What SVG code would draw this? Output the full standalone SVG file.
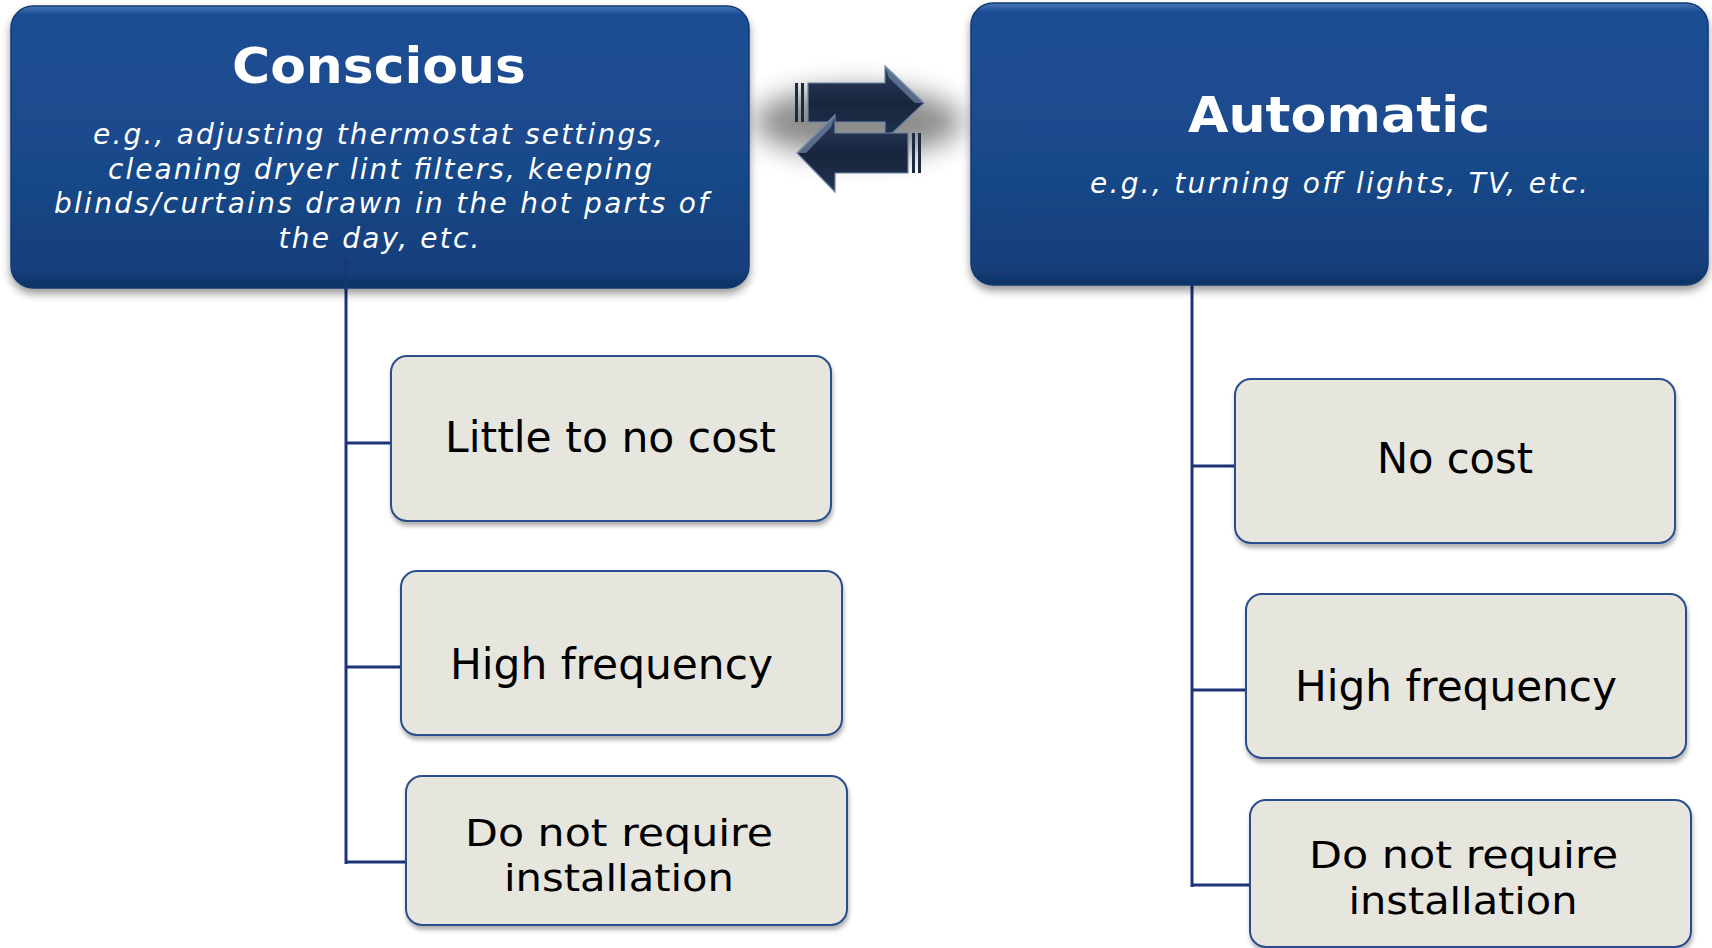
<svg xmlns="http://www.w3.org/2000/svg" width="1712" height="948" viewBox="0 0 1712 948">
<defs>
<linearGradient id="hdr" x1="0" y1="0" x2="0" y2="1">
<stop offset="0" stop-color="#4a78b8"/>
<stop offset="0.03" stop-color="#1c4e94"/>
<stop offset="0.5" stop-color="#1a4a8c"/>
<stop offset="0.93" stop-color="#143f7c"/>
<stop offset="1" stop-color="#0f3366"/>
</linearGradient>
<linearGradient id="arr" x1="0" y1="0" x2="0" y2="1">
<stop offset="0" stop-color="#2c3f60"/>
<stop offset="0.5" stop-color="#17243d"/>
<stop offset="1" stop-color="#22344f"/>
</linearGradient>
<filter id="hsh" x="-5%" y="-5%" width="110%" height="120%">
<feDropShadow dx="0" dy="5" stdDeviation="4" flood-color="#000" flood-opacity="0.4"/>
</filter>
<filter id="bsh" x="-5%" y="-5%" width="110%" height="120%">
<feDropShadow dx="1" dy="4" stdDeviation="2" flood-color="#000" flood-opacity="0.3"/>
</filter>
<filter id="blur" x="-50%" y="-100%" width="200%" height="300%">
<feGaussianBlur stdDeviation="14"/>
</filter>
<style>
.hdr{fill:url(#hdr);stroke:#123a70;stroke-width:1.5;filter:url(#hsh)}
.box{fill:#e6e5de;stroke:#2b4d8c;stroke-width:2;filter:url(#bsh)}
.title{font-family:"DejaVu Sans",Verdana,sans-serif;font-weight:bold;font-size:50px;fill:#fff;text-anchor:middle}
.sub{font-family:"DejaVu Sans",Verdana,sans-serif;font-style:italic;font-size:28px;fill:#fff;text-anchor:middle}
.lbl{font-family:"DejaVu Sans",Verdana,sans-serif;font-size:42px;fill:#000;text-anchor:middle}
.lbl2{font-family:"DejaVu Sans",Verdana,sans-serif;font-size:38px;fill:#000;text-anchor:middle}
.con{stroke:#1c3377;stroke-width:3;fill:none}
.stub{stroke:#cfcfcf;stroke-width:2;fill:none}
.ar{fill:url(#arr);stroke:#6d84a6;stroke-width:1.2}
.st{fill:#1b2a45}
</style>
</defs>
<rect width="1712" height="948" fill="#fff"/>

<g id="exchange-icon">
<ellipse cx="858" cy="122" rx="105" ry="34" fill="#000" opacity="0.45" filter="url(#blur)"/>
<g id="arrow-right">
<rect class="st" x="795" y="83" width="3" height="39"/>
<rect class="st" x="801" y="83" width="3" height="39"/>
<path class="ar" d="M808 83 H885 V66 L924 103 L885 140 V122 H808 Z"/>
<path d="M885 66 L924 103 L915 103 L889 78 Z" fill="#8aa0c0" opacity="0.55"/>
</g>
<g id="arrow-left">
<rect class="st" x="912" y="133" width="3" height="40"/>
<rect class="st" x="918" y="133" width="3" height="40"/>
<path class="ar" d="M908 133 H835 V115 L797 153 L835 192 V173 H908 Z"/>
<path d="M835 115 L797 153 L806 153 L831 127 Z" fill="#8aa0c0" opacity="0.55"/>
</g>
</g>

<g id="connectors">
<path class="con" d="M346 258 V864 M346 443 H391 M346 667 H401 M346 862 H406"/>
<path class="con" d="M1192 284 V887 M1192 466 H1235 M1192 690 H1246 M1192 885 H1250"/>
<path class="stub" d="M392 443 H403 M1236 466 H1247"/>
</g>

<g id="node-conscious">
<rect class="hdr" x="11" y="6" width="738" height="282" rx="22"/>
<text class="title" x="379" y="83" textLength="294" lengthAdjust="spacingAndGlyphs">Conscious</text>
<text class="sub" x="378" y="144" textLength="570" lengthAdjust="spacing">e.g., adjusting thermostat settings,</text>
<text class="sub" x="380" y="179" textLength="544" lengthAdjust="spacing">cleaning dryer lint filters, keeping</text>
<text class="sub" x="381" y="213" textLength="654" lengthAdjust="spacing">blinds/curtains drawn in the hot parts of</text>
<text class="sub" x="379" y="248" textLength="201" lengthAdjust="spacing">the day, etc.</text>
</g>
<path class="con" d="M346 258 V290"/>

<g id="node-automatic">
<rect class="hdr" x="971" y="3" width="737" height="282" rx="22"/>
<text class="title" x="1339" y="132" textLength="302" lengthAdjust="spacingAndGlyphs">Automatic</text>
<text class="sub" x="1339" y="193" textLength="498" lengthAdjust="spacing">e.g., turning off lights, TV, etc.</text>
</g>

<g id="node-little-cost">
<rect class="box" x="391" y="356" width="440" height="165" rx="16"/>
<text class="lbl" x="610.5" y="452" textLength="331" lengthAdjust="spacingAndGlyphs">Little to no cost</text>
</g>
<g id="node-left-high-frequency">
<rect class="box" x="401" y="571" width="441" height="164" rx="16"/>
<text class="lbl" x="611.5" y="679" textLength="323" lengthAdjust="spacingAndGlyphs">High frequency</text>
</g>
<g id="node-left-no-install">
<rect class="box" x="406" y="776" width="441" height="149" rx="16"/>
<text class="lbl2" x="619" y="846" textLength="308" lengthAdjust="spacingAndGlyphs">Do not require</text>
<text class="lbl2" x="619" y="891" textLength="230" lengthAdjust="spacingAndGlyphs">installation</text>
</g>

<g id="node-no-cost">
<rect class="box" x="1235" y="379" width="440" height="164" rx="16"/>
<text class="lbl" x="1455" y="473" textLength="156" lengthAdjust="spacingAndGlyphs">No cost</text>
</g>
<g id="node-right-high-frequency">
<rect class="box" x="1246" y="594" width="440" height="164" rx="16"/>
<text class="lbl" x="1456" y="701" textLength="322" lengthAdjust="spacingAndGlyphs">High frequency</text>
</g>
<g id="node-right-no-install">
<rect class="box" x="1250" y="800" width="441" height="147" rx="16"/>
<text class="lbl2" x="1463.5" y="868" textLength="309" lengthAdjust="spacingAndGlyphs">Do not require</text>
<text class="lbl2" x="1463" y="914" textLength="229" lengthAdjust="spacingAndGlyphs">installation</text>
</g>
</svg>
